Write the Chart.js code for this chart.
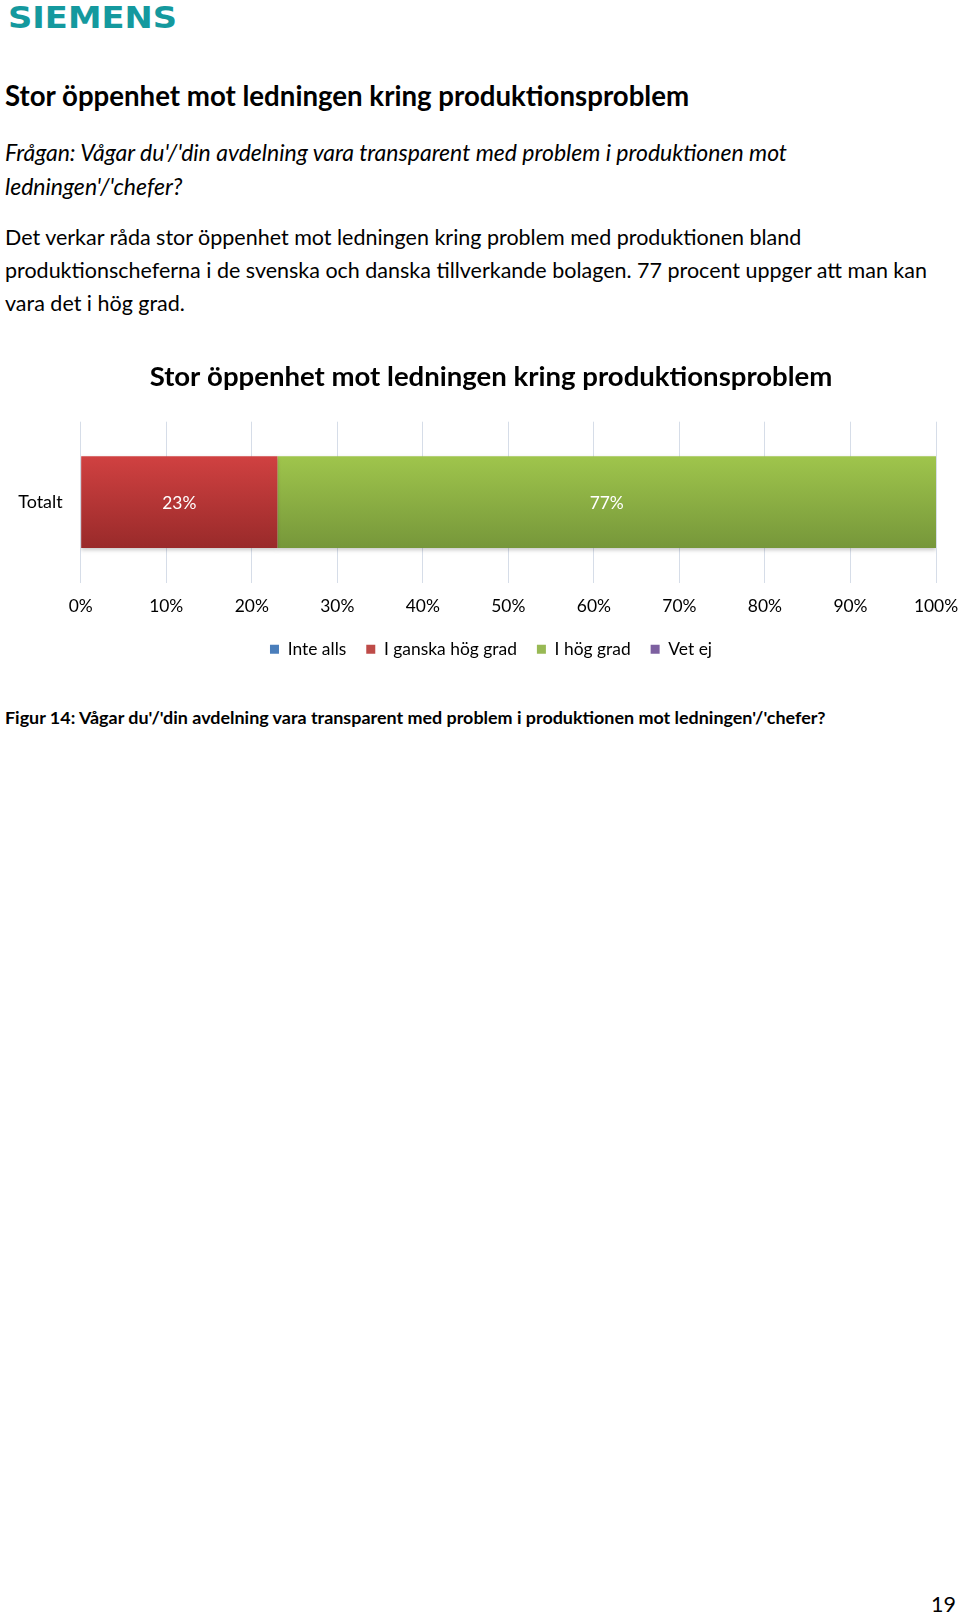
<!DOCTYPE html>
<html>
<head>
<meta charset="utf-8">
<script src="https://cdn.jsdelivr.net/npm/chart.js@4/dist/chart.umd.min.js"></script>
<style>
  body { margin: 0; background: #fff; width: 960px; height: 1617px; position: relative; overflow: hidden; font-family: Lato, sans-serif; color: #000; }
  .line { position: absolute; left: 5px; white-space: nowrap; line-height: 1; }
  #logo { font-family: 'DejaVu Sans', sans-serif; transform-origin: 0 0; }
  #chartBox { position: absolute; left: 0; top: 340px; width: 960px; height: 328px; }
</style>
</head>
<body>
<div class="line" id="logo" style="left:8px;color:#14999e;font-weight:700;">SIEMENS</div>
<div class="line" id="h1" style="font-weight:700;">Stor öppenhet mot ledningen kring produktionsproblem</div>
<div class="line q" id="q1" style="font-style:italic;">Frågan: Vågar du'/'din avdelning vara transparent med problem i produktionen mot</div>
<div class="line q" id="q2" style="font-style:italic;">ledningen'/'chefer?</div>
<div class="line p" id="p1">Det verkar råda stor öppenhet mot ledningen kring problem med produktionen bland</div>
<div class="line p" id="p2">produktionscheferna i de svenska och danska tillverkande bolagen. 77 procent uppger att man kan</div>
<div class="line p" id="p3">vara det i hög grad.</div>
<div class="line" id="cap" style="font-weight:700;">Figur 14: Vågar du'/'din avdelning vara transparent med problem i produktionen mot ledningen'/'chefer?</div>
<div class="line" id="pageNo" style="left:auto;right:4px;">19</div>
<div id="chartBox"><canvas id="chart"></canvas></div>

<script>
const categories = ['Totalt'];
const seriesNames = ['Inte alls', 'I ganska hög grad', 'I hög grad', 'Vet ej'];
const inteAlls = [0];
const ganskaHogGrad = [23];
const hogGrad = [77];
const vetEj = [0];
const xTickLabels = ['0%', '10%', '20%', '30%', '40%', '50%', '60%', '70%', '80%', '90%', '100%'];
const chartTitle = 'Stor öppenhet mot ledningen kring produktionsproblem';

const FONT = 'Lato, sans-serif';
const measureCtx = document.createElement('canvas').getContext('2d');

// font size so that the text spans the width seen in the reference
const fitSize = (text, target, weight = 400, style = 'normal') => {
  measureCtx.font = `${style} ${weight} 100px ${FONT}`;
  return (100 * target) / measureCtx.measureText(text).width;
};

const placeLine = (el, size, centerY) => {
  el.style.fontSize = `${size}px`;
  el.style.top = `${centerY - size / 2}px`;
};

// page text
const logo = document.getElementById('logo');
logo.style.fontSize = '30px';
logo.style.top = '3px';
measureCtx.font = `bold 30px 'DejaVu Sans'`;
logo.style.transform = `scaleX(${169 / measureCtx.measureText('SIEMENS').width})`;

placeLine(document.getElementById('h1'), fitSize('Stor öppenhet mot ledningen kring produktionsproblem', 685, 700), 96);

const qSize = fitSize(document.getElementById('q1').textContent, 784, 400, 'italic');
placeLine(document.getElementById('q1'), qSize, 153);
placeLine(document.getElementById('q2'), qSize, 187);

const pSize = fitSize(document.getElementById('p2').textContent, 923);
placeLine(document.getElementById('p1'), pSize, 238);
placeLine(document.getElementById('p2'), pSize, 271);
placeLine(document.getElementById('p3'), pSize, 304);
placeLine(document.getElementById('pageNo'), pSize, 1605);

placeLine(document.getElementById('cap'), fitSize(document.getElementById('cap').textContent, 823, 700), 718);

// chart sizes
const titleSize = fitSize(chartTitle, 683, 700);
const tickSize = fitSize('I ganska hög grad', 133);
const titleTop = 37 - titleSize * 0.6;
const plotTop = 81.7;
const titleBottom = plotTop - titleTop - titleSize * 1.2;
const plotLeft = 80.7;
// excel centres title and legend a bit right of the page centre
const padLeft = 12;
const padRight = -10;
const tickPad = 13;

const legendColors = ['#4a7ebb', '#be4b48', '#98b954', '#7d60a0'];
const barColors = [
  ['#5a8fd0', '#3b6aa3'],
  ['#d04141', '#992a2a'],
  ['#9fc54c', '#76973a'],
  ['#8e72b3', '#654b88']
];

const barFill = (index) => (context) => {
  const { chart } = context;
  const yScale = chart.scales.y;
  if (!chart.chartArea || !yScale) return barColors[index][0];
  const center = yScale.getPixelForValue(context.dataIndex);
  const half = (yScale.height * 0.57) / 2;
  const gradient = chart.ctx.createLinearGradient(0, center - half, 0, center + half);
  gradient.addColorStop(0, barColors[index][0]);
  gradient.addColorStop(1, barColors[index][1]);
  return gradient;
};

const shadowPlugin = {
  id: 'barShadow',
  beforeDatasetsDraw(chart) {
    const { ctx } = chart;
    ctx.save();
    ctx.shadowColor = 'rgba(0, 0, 0, 0.22)';
    ctx.shadowBlur = 4;
    ctx.shadowOffsetY = 2;
  },
  afterDatasetsDraw(chart) {
    chart.ctx.restore();
  }
};

const valueLabelPlugin = {
  id: 'valueLabels',
  afterDatasetsDraw(chart) {
    const { ctx } = chart;
    ctx.save();
    ctx.fillStyle = '#ffffff';
    ctx.font = `${tickSize}px ${FONT}`;
    ctx.textAlign = 'center';
    ctx.textBaseline = 'middle';
    chart.data.datasets.forEach((dataset, i) => {
      const meta = chart.getDatasetMeta(i);
      meta.data.forEach((bar, j) => {
        const value = dataset.data[j];
        if (!value) return;
        const { x, y } = bar.getCenterPoint();
        ctx.fillText(`${value}%`, x, y + 1);
      });
    });
    ctx.restore();
  }
};

const seriesValues = [inteAlls, ganskaHogGrad, hogGrad, vetEj];

new Chart(document.getElementById('chart'), {
  type: 'bar',
  data: {
    labels: categories,
    datasets: seriesNames.map((name, i) => ({
      label: name,
      data: seriesValues[i],
      backgroundColor: barFill(i),
      borderWidth: 0,
      barPercentage: 0.57,
      categoryPercentage: 1
    }))
  },
  options: {
    indexAxis: 'y',
    responsive: true,
    maintainAspectRatio: false,
    animation: false,
    layout: { padding: { top: 0, right: padRight, bottom: 0, left: padLeft } },
    plugins: {
      title: {
        display: true,
        text: chartTitle,
        color: '#000',
        font: { family: FONT, size: titleSize, weight: 'bold', lineHeight: 1.2 },
        padding: { top: titleTop, bottom: titleBottom }
      },
      legend: {
        position: 'bottom',
        labels: {
          color: '#000',
          font: { family: FONT, size: tickSize },
          boxWidth: 9,
          boxHeight: 9,
          padding: 20,
          generateLabels: (chart) =>
            chart.data.datasets.map((ds, i) => ({
              text: ds.label,
              fillStyle: legendColors[i],
              strokeStyle: legendColors[i],
              lineWidth: 0,
              hidden: false,
              datasetIndex: i,
              fontColor: '#000'
            }))
        }
      },
      tooltip: { enabled: false }
    },
    scales: {
      x: {
        stacked: true,
        min: 0,
        max: 100,
        ticks: {
          stepSize: 10,
          color: '#000',
          padding: tickPad,
          maxRotation: 0,
          font: { family: FONT, size: tickSize },
          callback: (value, index) => xTickLabels[index]
        },
        grid: { color: '#d6dde8', drawTicks: false },
        border: { display: false },
        afterFit: (scale) => {
          scale.paddingLeft = 0;
          scale.paddingRight = 24;
          scale.height = tickPad + tickSize * 1.2 + 4;
        }
      },
      y: {
        stacked: true,
        ticks: {
          color: '#000',
          padding: 18,
          font: { family: FONT, size: fitSize('Totalt', 44.5) }
        },
        grid: { display: false, drawTicks: false },
        border: { display: false },
        afterFit: (scale) => {
          scale.width = plotLeft - padLeft;
        }
      }
    }
  },
  plugins: [shadowPlugin, valueLabelPlugin]
});
</script>
</body>
</html>
